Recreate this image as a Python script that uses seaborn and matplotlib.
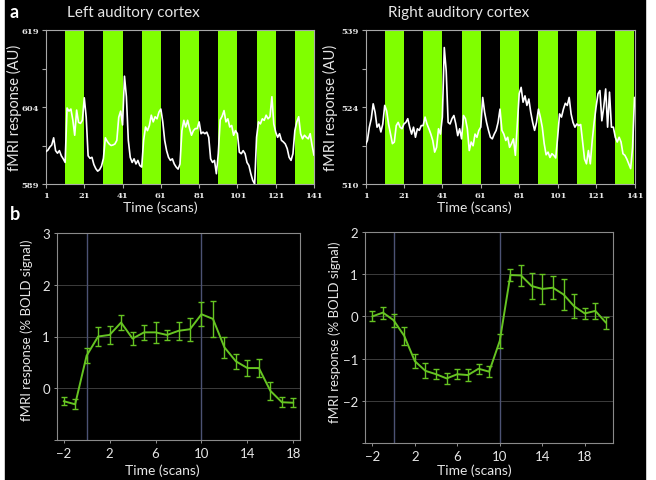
import matplotlib.pyplot as plt
import numpy as np
import pandas as pd
import seaborn as sns

# ## Raw fMRI time courses (one value per scan, scans 1-141)

left_ts = [
    595.3, 595.6, 596.2, 596.6, 598.0, 595.5, 595.0, 595.5, 594.5, 593.9,
    593.2, 603.8, 603.2, 603.6, 601.5, 598.5, 603.4, 601.0, 600.8, 601.4,
    605.8, 602.0, 594.5, 594.0, 594.2, 592.8, 592.0, 591.5, 591.8, 592.5,
    594.0, 598.0, 597.3, 596.8, 596.5, 596.6, 596.8, 597.5, 602.0, 603.2,
    600.5, 610.0, 606.0, 597.5, 594.2, 593.2, 593.9, 592.9, 593.6, 592.6,
    592.3, 597.5, 600.1, 599.4, 600.4, 602.4, 601.1, 602.1, 601.7, 603.0,
    603.6, 601.1, 597.5, 595.5, 594.2, 593.6, 593.9, 592.9, 592.3, 591.9,
    592.9, 599.4, 601.4, 600.1, 601.4, 599.8, 598.5, 599.4, 599.8, 599.8,
    601.1, 598.8, 599.1, 598.8, 599.1, 598.1, 593.9, 593.2, 593.6, 591.0,
    594.9, 601.5, 602.2, 603.3, 601.1, 601.7, 600.1, 600.4, 598.5, 599.4,
    598.8, 595.2, 594.9, 595.5, 594.9, 593.2, 592.6, 591.0, 589.7, 589.0,
    598.1, 601.1, 600.7, 601.7, 601.4, 602.4, 601.7, 602.1, 606.0, 600.7,
    599.1, 598.1, 598.8, 597.5, 597.2, 596.8, 595.9, 594.2, 593.6, 594.9,
    599.4, 601.1, 602.1, 598.8, 597.8, 598.5, 598.1, 597.8, 598.8, 596.5,
    594.6,
]
right_ts = [
    517.4, 518.2, 520.7, 522.3, 525.1, 523.5, 520.7, 521.3, 519.8, 521.3,
    524.8, 523.8, 521.3, 519.4, 517.6, 517.9, 521.0, 521.6, 520.7, 520.4,
    521.3, 521.6, 522.3, 520.7, 519.4, 520.7, 518.8, 520.4, 520.1, 521.0,
    521.0, 522.6, 521.3, 520.4, 519.4, 518.2, 516.0, 516.9, 520.4, 519.4,
    522.6, 535.7, 531.3, 521.6, 521.3, 522.3, 522.9, 521.3, 519.1, 520.4,
    518.5, 522.9, 522.3, 520.4, 516.3, 517.9, 517.2, 519.4, 518.8, 520.1,
    520.7, 526.3, 523.5, 521.6, 520.1, 518.8, 518.5, 519.4, 520.1, 521.6,
    524.1, 520.1, 519.4, 518.2, 518.8, 516.9, 517.6, 518.5, 515.4, 521.3,
    527.0, 528.2, 525.4, 526.6, 524.8, 526.0, 523.5, 521.6, 520.1, 521.6,
    524.1, 522.6, 520.7, 517.6, 515.5, 516.0, 515.0, 515.7, 515.4, 514.9,
    518.8, 523.2, 522.6, 524.1, 525.2, 524.8, 526.3, 523.2, 521.6, 520.7,
    521.3, 521.0, 521.2, 517.9, 514.7, 513.8, 516.3, 513.8, 518.2, 521.6,
    524.5, 527.0, 527.6, 521.9, 524.5, 527.9, 520.7, 527.3, 520.7, 520.7,
    518.8, 517.9, 518.8, 517.9, 515.7, 515.4, 514.7, 513.8, 512.9, 516.9,
    526.3,
]
stim_onsets = [11, 31, 51, 71, 91, 111, 131]
stim_len = 10

# ## Block averages (% BOLD signal, mean +/- error)

lag_left = list(range(-2, 19))
bold_left = [-0.25, -0.31, 0.63, 1.00, 1.03, 1.27, 0.96, 1.08, 1.08, 1.03,
             1.11, 1.14, 1.43, 1.34, 0.79, 0.52, 0.39, 0.39, -0.05, -0.27,
             -0.28]
err_left = [0.08, 0.10, 0.14, 0.18, 0.18, 0.15, 0.12, 0.14, 0.20, 0.10,
            0.17, 0.22, 0.23, 0.35, 0.21, 0.15, 0.15, 0.18, 0.17, 0.10,
            0.09]

lag_right = list(range(-2, 21))
bold_right = [0.00, 0.09, -0.09, -0.46, -1.06, -1.29, -1.37, -1.47, -1.37,
              -1.39, -1.24, -1.31, -0.58, 0.98, 0.97, 0.72, 0.65, 0.68,
              0.52, 0.24, 0.07, 0.13, -0.15]
err_right = [0.12, 0.14, 0.15, 0.22, 0.16, 0.18, 0.12, 0.14, 0.12, 0.15,
             0.12, 0.13, 0.16, 0.15, 0.24, 0.31, 0.36, 0.27, 0.36, 0.28,
             0.12, 0.19, 0.14]
stim_marks = [0, 10]

sns.set_style("dark")
plt.rcParams["font.family"] = ["Lato", "DejaVu Sans"]

W, H = 656, 481
fig = plt.figure(figsize=(W / 100, H / 100), dpi=100, facecolor="white")
fig.patches.append(
    plt.Rectangle((5 / W, 0), 640 / W, 1, transform=fig.transFigure,
                  color="black", zorder=-10)
)

lime = "#80ff00"
line_green = "#66c422"
spine_col = "#a8a8a8"
txt = "#e6e6e6"


def px_axes(x0, y0, x1, y1):
    return fig.add_axes([x0 / W, 1 - y1 / H, (x1 - x0) / W, (y1 - y0) / H])


def ftext(x, y, s, **kw):
    fig.text(x / W, 1 - y / H, s, color=txt, ha="center", va="center", **kw)


def raw_panel(ax, ts, ylo, yhi, ylabels):
    df = pd.DataFrame({"scan": np.arange(1, len(ts) + 1), "value": ts})
    ax.set_facecolor("black")
    for on in stim_onsets:
        ax.axvspan(on, on + stim_len, color=lime, lw=0, zorder=0)
    sns.lineplot(data=df, x="scan", y="value", ax=ax, color="white",
                 lw=1.2, zorder=3)
    ax.set_xlim(1, 141)
    ax.set_ylim(ylo, yhi)
    ax.set_xticks(range(1, 142, 20))
    ax.set_yticks(np.linspace(ylo, yhi, 5))
    ax.set_yticklabels(ylabels)
    for lab in ax.get_xticklabels() + ax.get_yticklabels():
        lab.set_family("DejaVu Serif")
        lab.set_weight("bold")
        lab.set_fontsize(6)
        lab.set_color(txt)
    ax.tick_params(length=3, width=0.8, color=spine_col, pad=2,
                   bottom=True, left=True)
    ax.set_xlabel("")
    ax.set_ylabel("")
    ax.grid(False)
    for sp in ax.spines.values():
        sp.set_visible(True)
        sp.set_color(spine_col)
        sp.set_linewidth(0.8)


def avg_panel(ax, lag, bold, err, xlim, ylim, yticks, yticklabels):
    df = pd.DataFrame({"lag": lag, "bold": bold})
    ax.set_facecolor("black")
    for m in stim_marks:
        ax.axvline(m, color="#4c5274", lw=1.0, zorder=1)
    sns.lineplot(data=df, x="lag", y="bold", ax=ax, color=line_green,
                 lw=1.4, zorder=3)
    ax.errorbar(lag, bold, yerr=err, fmt="none", ecolor=line_green,
                elinewidth=1.0, capsize=2, capthick=1.0, zorder=3)
    ax.set_xlim(*xlim)
    ax.set_ylim(*ylim)
    ax.set_xticks([-2, 2, 6, 10, 14, 18])
    ax.set_xticklabels(["\u22122", "2", "6", "10", "14", "18"])
    ax.set_yticks(yticks)
    ax.set_yticklabels(yticklabels)
    ax.grid(False)
    for y in yticks:
        ax.axhline(y, color="#3c3c3c", lw=0.7, zorder=0)
    ax.tick_params(length=2, width=0.6, color=spine_col, pad=3,
                   labelsize=9.5, labelcolor=txt, bottom=True, left=True)
    ax.set_xlabel("")
    ax.set_ylabel("")
    for sp in ax.spines.values():
        sp.set_visible(True)
        sp.set_color("#8a8a8a")
        sp.set_linewidth(0.8)


ax1 = px_axes(46, 31, 314, 185)
raw_panel(ax1, left_ts, 589, 619, ["589", "", "604", "", "619"])
ax2 = px_axes(365.5, 31, 634.5, 185)
raw_panel(ax2, right_ts, 510, 539, ["510", "", "524", "", "539"])

ax3 = px_axes(57, 234, 300, 441)
avg_panel(ax3, lag_left, bold_left, err_left, (-2.58, 18.58), (-1, 3),
          [-1, 0, 1, 2, 3], ["", "0", "1", "2", "3"])
ax4 = px_axes(365, 233, 613, 444)
avg_panel(ax4, lag_right, bold_right, err_right, (-2.69, 20.66), (-3, 2),
          [-3, -2, -1, 0, 1, 2],
          ["", "\u22122", "\u22121", "0", "1", "2"])

# panel letters and titles
fig.text(10 / W, 1 - 12 / H, "a", color="white", fontsize=13,
         fontweight="bold", va="center")
fig.text(10 / W, 1 - 214 / H, "b", color="white", fontsize=13,
         fontweight="bold", va="center")
fig.text(67 / W, 1 - 13 / H, "Left auditory cortex", color=txt,
         fontsize=11, va="center")
fig.text(388 / W, 1 - 13 / H, "Right auditory cortex", color=txt,
         fontsize=11, va="center")

ftext(14, 108, "fMRI response (AU)", rotation=90, fontsize=10.5)
ftext(330, 108, "fMRI response (AU)", rotation=90, fontsize=10.5)
ftext(27, 330, "fMRI response (% BOLD signal)", rotation=90, fontsize=9.5)
ftext(335, 332, "fMRI response (% BOLD signal)", rotation=90, fontsize=9.5)
ftext(160, 208, "Time (scans)", fontsize=10)
ftext(474, 208, "Time (scans)", fontsize=10)
ftext(162, 471, "Time (scans)", fontsize=10)
ftext(474, 471, "Time (scans)", fontsize=10)

fig.savefig("out.png", dpi=100, facecolor=fig.get_facecolor())
